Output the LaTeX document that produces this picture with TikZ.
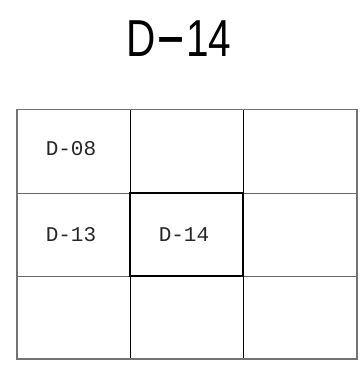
\documentclass[tikz,border=0pt]{standalone}
\usepackage{fontspec}
\usepackage{graphicx}
\setmainfont{Liberation Sans}
\newfontfamily\cellfont{Liberation Mono}
\begin{document}
\begin{tikzpicture}[x=1pt,y=-1pt,
  outer/.style={draw=black!55,line width=1.3pt},
  hline/.style={draw=black!60,line width=0.8pt},
  vline/.style={draw=black,line width=0.7pt},
  current/.style={draw=black,line width=1.3pt},
  celllabel/.style={font=\cellfont\fontsize{21}{21}\selectfont,text=black!85},
  titlelabel/.style={font=\fontsize{52}{52}\selectfont,xscale=0.78}]
\useasboundingbox (0,0) rectangle (362,383);
\node[titlelabel] (title) at (179,39) {D\kern-0.5pt\scalebox{2.3}[1.2]{-}\kern-0.5pt14};
% grid coordinates
\coordinate (a0) at (17,109.5); \coordinate (a1) at (130,109.5); \coordinate (a2) at (243,109.5); \coordinate (a3) at (357,109.5);
\coordinate (b0) at (17,193); \coordinate (b1) at (130,193); \coordinate (b2) at (243,193); \coordinate (b3) at (357,193);
\coordinate (c0) at (17,276); \coordinate (c1) at (130,276); \coordinate (c2) at (243,276); \coordinate (c3) at (357,276);
\coordinate (d0) at (17,359); \coordinate (d1) at (130,359); \coordinate (d2) at (243,359); \coordinate (d3) at (357,359);
\draw[hline] (b0) -- (b3);
\draw[hline] (c0) -- (c3);
\draw[vline] (a1) -- (d1);
\draw[vline] (a2) -- (d2);
\draw[outer] (a0) rectangle (d3);
\draw[current] (b1) rectangle (c2);
\node[celllabel] (l08) at (71,149) {D-08};
\node[celllabel] (l13) at (71,235) {D-13};
\node[celllabel] (l14) at (184,235) {D-14};
\end{tikzpicture}
\end{document}
